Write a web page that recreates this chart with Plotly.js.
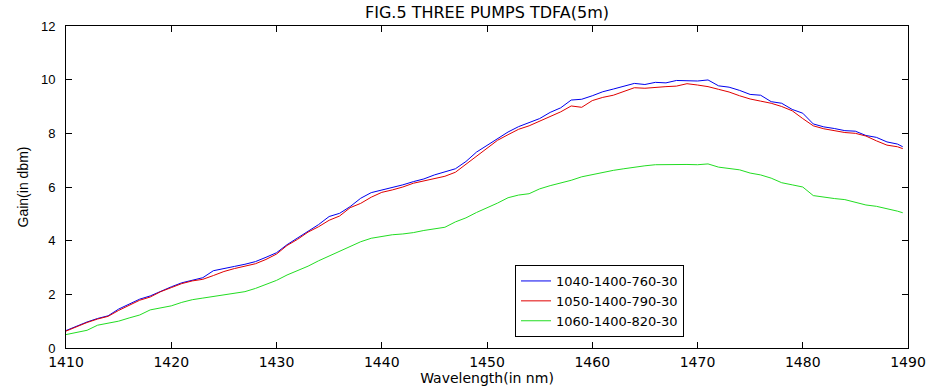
<!DOCTYPE html>
<html>
<head>
<meta charset="utf-8">
<script src="https://cdn.plot.ly/plotly-3.0.1.min.js"></script>
<style>html,body{margin:0;padding:0;background:#fff;}#chart{width:930px;height:386px;}</style>
</head>
<body>
<div id="chart"></div>
<script>
// Wavelength (nm)
const wavelength = [1410,1411,1412,1413,1414,1415,1416,1417,1418,1419,1420,1421,1422,1423,1424,1425,1426,1427,1428,1429,
  1430,1431,1432,1433,1434,1435,1436,1437,1438,1439,1440,1441,1442,1443,1444,1445,1446,1447,1448,1449,
  1450,1451,1452,1453,1454,1455,1456,1457,1458,1459,1460,1461,1462,1463,1464,1465,1466,1467,1468,1469,
  1470,1471,1472,1473,1474,1475,1476,1477,1478,1479,1480,1481,1482,1483,1484,1485,1486,1487,1488,1489,1489.5];

// Gain (dBm) for each pump configuration
const gain1040 = [0.65,0.82,0.97,1.10,1.20,1.45,1.65,1.82,1.94,2.12,2.28,2.43,2.52,2.62,2.88,2.97,3.04,3.12,3.22,3.38,
  3.55,3.85,4.10,4.35,4.60,4.90,5.02,5.27,5.58,5.79,5.88,5.97,6.08,6.20,6.30,6.45,6.57,6.68,6.95,7.30,
  7.55,7.80,8.05,8.25,8.40,8.55,8.78,8.95,9.24,9.27,9.40,9.55,9.65,9.75,9.86,9.82,9.90,9.88,9.97,9.96,
  9.95,9.99,9.77,9.72,9.60,9.45,9.42,9.18,9.12,8.89,8.75,8.35,8.24,8.18,8.10,8.08,7.92,7.85,7.68,7.60,7.50];

const gain1050 = [0.63,0.80,0.95,1.08,1.18,1.40,1.60,1.78,1.90,2.10,2.25,2.40,2.50,2.56,2.70,2.85,2.96,3.05,3.14,3.30,
  3.50,3.82,4.05,4.32,4.52,4.76,4.92,5.23,5.39,5.62,5.80,5.89,6.00,6.14,6.23,6.32,6.40,6.55,6.85,7.15,
  7.45,7.74,7.95,8.15,8.28,8.45,8.60,8.80,9.02,8.97,9.22,9.34,9.42,9.55,9.70,9.68,9.72,9.74,9.76,9.85,
  9.80,9.74,9.64,9.54,9.40,9.28,9.20,9.12,9.00,8.84,8.55,8.28,8.17,8.09,8.03,8.00,7.90,7.72,7.56,7.50,7.43];

const gain1060 = [0.50,0.58,0.66,0.85,0.92,1.00,1.12,1.23,1.42,1.50,1.57,1.70,1.80,1.86,1.92,1.97,2.02,2.10,2.22,2.36,
  2.52,2.72,2.88,3.05,3.25,3.43,3.62,3.80,3.96,4.09,4.16,4.22,4.25,4.30,4.38,4.44,4.50,4.70,4.85,5.05,
  5.22,5.40,5.60,5.70,5.75,5.93,6.05,6.14,6.25,6.38,6.46,6.55,6.62,6.68,6.74,6.79,6.83,6.84,6.84,6.84,
  6.83,6.86,6.74,6.69,6.64,6.52,6.45,6.33,6.16,6.08,6.00,5.68,5.62,5.57,5.53,5.42,5.33,5.28,5.20,5.10,5.04];

const seriesNames = ['1040-1400-760-30','1050-1400-790-30','1060-1400-820-30'];
const xTicks = [1410,1420,1430,1440,1450,1460,1470,1480,1490];
const yTicks = [0,2,4,6,8,10,12];

const colors = ['#0000ee','#e00000','#22dd22'];
const gains = [gain1040, gain1050, gain1060];

const traces = gains.map((g, i) => ({
  type: 'scatter', mode: 'lines', x: wavelength, y: g, name: seriesNames[i],
  line: {color: colors[i], width: 1}
}));

const layout = {
  width: 930, height: 386,
  margin: {l: 66, r: 22, t: 26, b: 38, pad: 0},
  paper_bgcolor: '#fff', plot_bgcolor: '#fff',
  font: {family: 'Liberation Sans, Arial, sans-serif', color: '#000'},
  title: {text: 'FIG.5 THREE PUMPS TDFA(5m)', x: 0.5, xref: 'paper', y: 1 - 12/386, yref: 'container', yanchor: 'middle',
    font: {family: 'DejaVu Sans', size: 16, color: '#000'}},
  xaxis: {
    range: [1410, 1490], tickvals: xTicks, ticktext: xTicks.map(String),
    ticks: 'inside', ticklen: 6, tickcolor: '#000', mirror: 'ticks',
    showline: true, linecolor: '#000', linewidth: 1, showgrid: false, zeroline: false,
    tickfont: {family: 'DejaVu Sans', size: 14, color: '#000'},
    ticklabelstandoff: 1,
    title: {text: 'Wavelength(in nm)', font: {family: 'DejaVu Sans', size: 14, color: '#000'}, standoff: 2},
    automargin: false, fixedrange: true
  },
  yaxis: {
    range: [0, 12], tickvals: yTicks, ticktext: yTicks.map(String),
    ticks: 'inside', ticklen: 6, tickcolor: '#000', mirror: 'ticks',
    showline: true, linecolor: '#000', linewidth: 1, showgrid: false, zeroline: false,
    tickfont: {family: 'Liberation Sans', size: 13, color: '#000'},
    ticklabelstandoff: 7,
    title: {text: 'Gain(in dbm)', font: {family: 'Liberation Sans', size: 14, color: '#000'}},
    automargin: false, fixedrange: true
  },
  showlegend: true,
  legend: {
    x: (515-66)/842, xanchor: 'left', y: (348-265)/322, yanchor: 'top',
    bgcolor: '#fff', bordercolor: '#000', borderwidth: 1,
    font: {family: 'DejaVu Sans', size: 13, color: '#000'},
    tracegroupgap: 0, itemwidth: 30
  }
};

Plotly.newPlot('chart', traces, layout, {staticPlot: true, displayModeBar: false});
</script>
</body>
</html>
